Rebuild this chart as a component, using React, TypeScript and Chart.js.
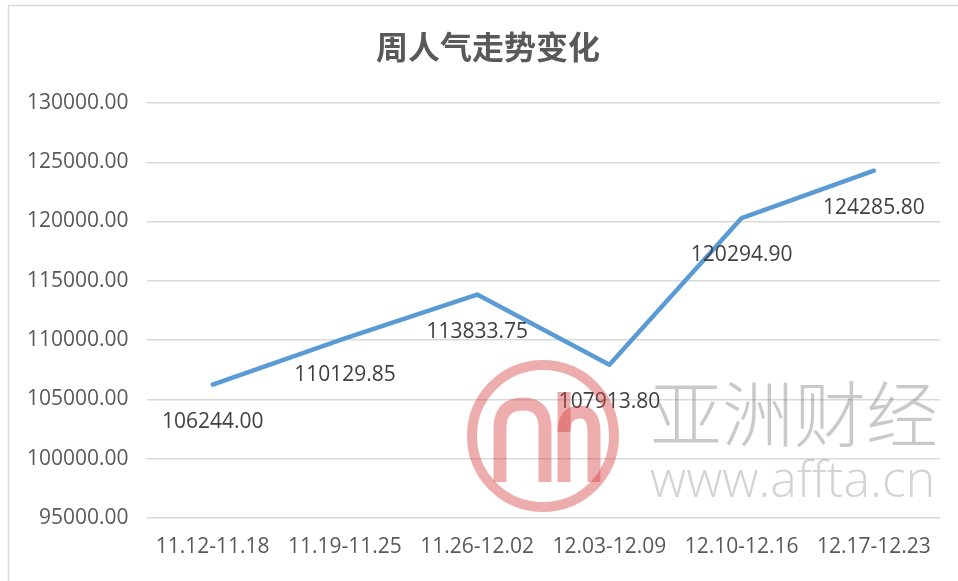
import React, { useEffect, useRef } from "react";
import { Chart, registerables } from "chart.js";

Chart.register(...registerables);

const categories = ["11.12-11.18", "11.19-11.25", "11.26-12.02", "12.03-12.09", "12.10-12.16", "12.17-12.23"];
const popularity = [106244.0, 110129.85, 113833.75, 107913.8, 120294.9, 124285.8];
const chartTitle = "周人气走势变化";
const yMin = 95000;
const yMax = 130000;
const yStep = 5000;
const watermarkName = "亚洲财经";
const watermarkUrl = "www.affta.cn";

const TICK_FONT = { family: "'Open Sans', 'Liberation Sans', sans-serif", size: 21 };

const framePlugin = {
  id: "frame",
  beforeDraw(chart: any) {
    const ctx = chart.ctx;
    ctx.save();
    ctx.fillStyle = "#ffffff";
    ctx.fillRect(0, 0, chart.width, chart.height);
    ctx.strokeStyle = "#d9d9d9";
    ctx.lineWidth = 1.5;
    ctx.beginPath();
    ctx.moveTo(8.5, chart.height);
    ctx.lineTo(8.5, 5.5);
    ctx.lineTo(chart.width, 5.5);
    ctx.stroke();
    ctx.restore();
  },
};

const titlePlugin = {
  id: "customTitle",
  afterDraw(chart: any) {
    const ctx = chart.ctx;
    ctx.save();
    ctx.font = "bold 32px 'Noto Sans CJK SC', sans-serif";
    ctx.fillStyle = "#595959";
    ctx.textAlign = "center";
    ctx.textBaseline = "middle";
    ctx.fillText(chartTitle, 488, 47, 228);
    ctx.restore();
  },
};

const labelPlugin = {
  id: "pointLabels",
  afterDatasetsDraw(chart: any) {
    const ctx = chart.ctx;
    const meta = chart.getDatasetMeta(0);
    const data = chart.data.datasets[0].data as number[];
    ctx.save();
    ctx.font = "21px 'Open Sans', 'Liberation Sans', sans-serif";
    ctx.fillStyle = "#404040";
    ctx.textAlign = "center";
    ctx.textBaseline = "middle";
    meta.data.forEach((pt: any, i: number) => {
      ctx.fillText(Number(data[i]).toFixed(2), pt.x, pt.y + 37);
    });
    ctx.restore();
  },
};

const watermarkPlugin = {
  id: "watermark",
  afterDraw(chart: any) {
    const ctx = chart.ctx;
    ctx.save();
    const pink = "rgba(215,60,60,0.42)";
    ctx.strokeStyle = pink;
    ctx.lineWidth = 10;
    ctx.beginPath();
    ctx.arc(543, 436, 71, 0, Math.PI * 2);
    ctx.stroke();
    ctx.lineWidth = 13;
    ctx.lineCap = "butt";
    ctx.lineJoin = "round";
    ctx.beginPath();
    ctx.moveTo(500, 482);
    ctx.lineTo(500, 428);
    ctx.quadraticCurveTo(500, 404, 523, 404);
    ctx.quadraticCurveTo(545, 404, 545, 428);
    ctx.lineTo(545, 482);
    ctx.stroke();
    ctx.beginPath();
    ctx.moveTo(564, 482);
    ctx.lineTo(564, 392);
    ctx.stroke();
    ctx.beginPath();
    ctx.moveTo(564, 432);
    ctx.quadraticCurveTo(564, 412, 580, 412);
    ctx.quadraticCurveTo(594, 412, 594, 432);
    ctx.lineTo(594, 482);
    ctx.stroke();
    ctx.fillStyle = "rgba(120,120,120,0.4)";
    ctx.textAlign = "left";
    ctx.textBaseline = "middle";
    ctx.font = "300 72px 'Noto Sans CJK SC', sans-serif";
    ctx.fillText(watermarkName, 650, 414, 295);
    ctx.fillStyle = "rgba(120,120,120,0.33)";
    ctx.font = "300 50px 'Open Sans', 'Liberation Sans', sans-serif";
    ctx.fillText(watermarkUrl, 650, 483, 290);
    ctx.restore();
  },
};

export default function App() {
  const ref = useRef<HTMLCanvasElement | null>(null);

  useEffect(() => {
    if (!ref.current) return;
    const chart = new Chart(ref.current, {
      type: "line",
      data: {
        labels: categories,
        datasets: [
          {
            data: popularity,
            borderColor: "#5B9BD5",
            backgroundColor: "#5B9BD5",
            borderWidth: 4.5,
            pointRadius: 0,
            tension: 0,
            borderJoinStyle: "round",
            borderCapStyle: "round",
          },
        ],
      },
      options: {
        responsive: false,
        animation: false,
        devicePixelRatio: 1,
        layout: { padding: { left: 9, right: 18, top: 103, bottom: 4 } },
        plugins: {
          legend: { display: false },
          title: { display: false },
          tooltip: { enabled: false },
        },
        scales: {
          x: {
            offset: true,
            grid: { display: false, drawTicks: false },
            border: { display: false },
            ticks: { color: "#595959", font: TICK_FONT, padding: 17, maxRotation: 0, autoSkip: false },
          },
          y: {
            min: yMin,
            max: yMax,
            grid: { color: "#d9d9d9", lineWidth: 1.5, drawTicks: false },
            border: { display: false },
            ticks: {
              stepSize: yStep,
              color: "#595959",
              font: TICK_FONT,
              padding: 18,
              callback: (v: any) => Number(v).toFixed(2),
            },
          },
        },
      } as any,
      plugins: [framePlugin, titlePlugin, labelPlugin, watermarkPlugin],
    });
    return () => chart.destroy();
  }, []);

  return (
    <div style={{ position: "fixed", left: 0, top: 0, width: 958, height: 581, background: "#fff" }}>
      <canvas ref={ref} width={958} height={581} style={{ display: "block", width: 958, height: 581 }} />
    </div>
  );
}
